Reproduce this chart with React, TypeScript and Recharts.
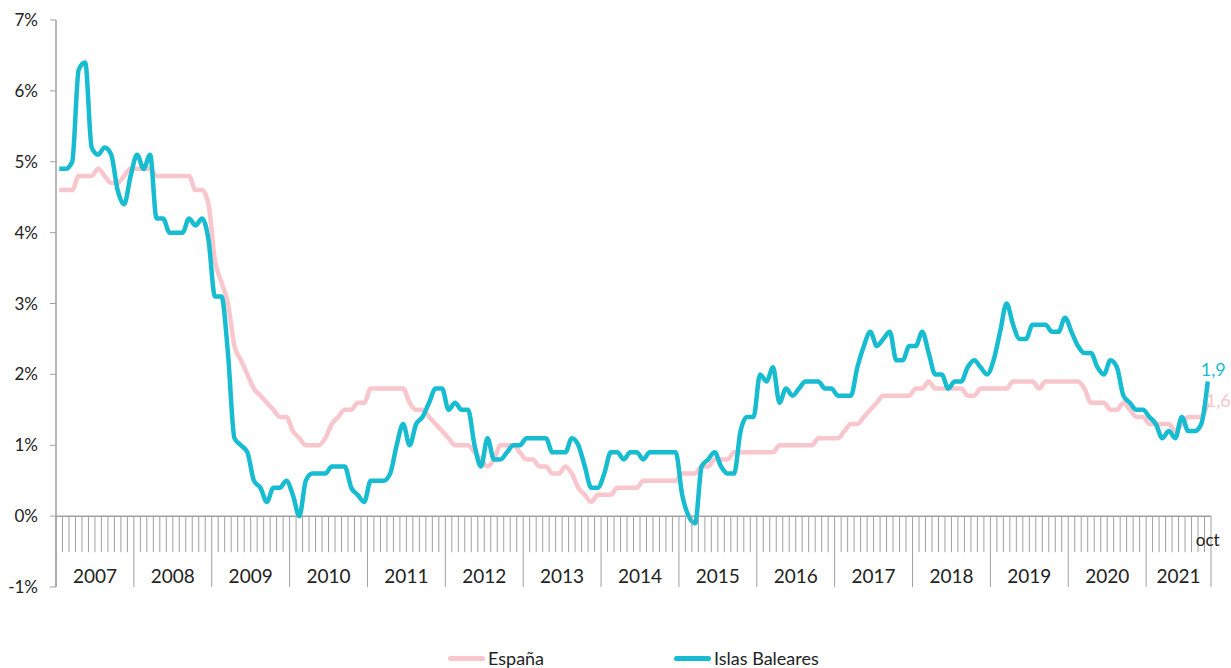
import { Line, LineChart, ReferenceLine, XAxis, YAxis } from 'recharts'

const YEARS = [2007, 2008, 2009, 2010, 2011, 2012, 2013, 2014, 2015, 2016, 2017, 2018, 2019, 2020, 2021]
const MONTHS = ['ene', 'feb', 'mar', 'abr', 'may', 'jun', 'jul', 'ago', 'sep', 'oct', 'nov', 'dic']
const Y_TICKS = [-1, 0, 1, 2, 3, 4, 5, 6, 7]

// one value per month, jan 2007 .. oct 2021
const espana = [
  4.6, 4.6, 4.6, 4.8, 4.8, 4.8, 4.9, 4.8, 4.7, 4.7, 4.8, 4.9, // 2007
  4.9, 4.9, 4.9, 4.8, 4.8, 4.8, 4.8, 4.8, 4.8, 4.6, 4.6, 4.4, // 2008
  3.6, 3.3, 3.0, 2.4, 2.2, 2.0, 1.8, 1.7, 1.6, 1.5, 1.4, 1.4, // 2009
  1.2, 1.1, 1.0, 1.0, 1.0, 1.1, 1.3, 1.4, 1.5, 1.5, 1.6, 1.6, // 2010
  1.8, 1.8, 1.8, 1.8, 1.8, 1.8, 1.6, 1.5, 1.5, 1.4, 1.3, 1.2, // 2011
  1.1, 1.0, 1.0, 1.0, 0.9, 0.8, 0.7, 0.8, 1.0, 1.0, 1.0, 0.9, // 2012
  0.8, 0.8, 0.7, 0.7, 0.6, 0.6, 0.7, 0.6, 0.4, 0.3, 0.2, 0.3, // 2013
  0.3, 0.3, 0.4, 0.4, 0.4, 0.4, 0.5, 0.5, 0.5, 0.5, 0.5, 0.5, // 2014
  0.6, 0.6, 0.6, 0.7, 0.7, 0.8, 0.8, 0.8, 0.9, 0.9, 0.9, 0.9, // 2015
  0.9, 0.9, 0.9, 1.0, 1.0, 1.0, 1.0, 1.0, 1.0, 1.1, 1.1, 1.1, // 2016
  1.1, 1.2, 1.3, 1.3, 1.4, 1.5, 1.6, 1.7, 1.7, 1.7, 1.7, 1.7, // 2017
  1.8, 1.8, 1.9, 1.8, 1.8, 1.8, 1.8, 1.8, 1.7, 1.7, 1.8, 1.8, // 2018
  1.8, 1.8, 1.8, 1.9, 1.9, 1.9, 1.9, 1.8, 1.9, 1.9, 1.9, 1.9, // 2019
  1.9, 1.9, 1.8, 1.6, 1.6, 1.6, 1.5, 1.5, 1.6, 1.5, 1.4, 1.4, // 2020
  1.3, 1.3, 1.3, 1.3, 1.2, 1.3, 1.4, 1.4, 1.4, 1.6, // 2021
]

const baleares = [
  4.9, 4.9, 5.0, 6.3, 6.4, 5.2, 5.1, 5.2, 5.1, 4.6, 4.4, 4.8, // 2007
  5.1, 4.9, 5.1, 4.2, 4.2, 4.0, 4.0, 4.0, 4.2, 4.1, 4.2, 3.9, // 2008
  3.1, 3.1, 2.3, 1.1, 1.0, 0.9, 0.5, 0.4, 0.2, 0.4, 0.4, 0.5, // 2009
  0.3, 0.0, 0.5, 0.6, 0.6, 0.6, 0.7, 0.7, 0.7, 0.4, 0.3, 0.2, // 2010
  0.5, 0.5, 0.5, 0.6, 1.0, 1.3, 1.0, 1.3, 1.4, 1.6, 1.8, 1.8, // 2011
  1.5, 1.6, 1.5, 1.5, 1.0, 0.7, 1.1, 0.8, 0.8, 0.9, 1.0, 1.0, // 2012
  1.1, 1.1, 1.1, 1.1, 0.9, 0.9, 0.9, 1.1, 1.0, 0.7, 0.4, 0.4, // 2013
  0.6, 0.9, 0.9, 0.8, 0.9, 0.9, 0.8, 0.9, 0.9, 0.9, 0.9, 0.9, // 2014
  0.3, 0.0, -0.1, 0.7, 0.8, 0.9, 0.7, 0.6, 0.6, 1.2, 1.4, 1.4, // 2015
  2.0, 1.9, 2.1, 1.6, 1.8, 1.7, 1.8, 1.9, 1.9, 1.9, 1.8, 1.8, // 2016
  1.7, 1.7, 1.7, 2.1, 2.4, 2.6, 2.4, 2.5, 2.6, 2.2, 2.2, 2.4, // 2017
  2.4, 2.6, 2.3, 2.0, 2.0, 1.8, 1.9, 1.9, 2.1, 2.2, 2.1, 2.0, // 2018
  2.2, 2.6, 3.0, 2.7, 2.5, 2.5, 2.7, 2.7, 2.7, 2.6, 2.6, 2.8, // 2019
  2.6, 2.4, 2.3, 2.3, 2.1, 2.0, 2.2, 2.1, 1.7, 1.6, 1.5, 1.5, // 2020
  1.4, 1.3, 1.1, 1.2, 1.1, 1.4, 1.2, 1.2, 1.3, 1.9, // 2021
]

const PINK = '#f8c6cc'
const TEAL = '#17bcd0'
const AXIS = '#a0a0a0'
const FONT = 'Lato, "Open Sans", sans-serif'

const months = YEARS.flatMap((y) => MONTHS.map((m) => `${m} ${y}`)).slice(0, espana.length)
const chartData = months.map((month, i) => ({ month, espana: espana[i], baleares: baleares[i] }))
const N = chartData.length

const WIDTH = 1231
const HEIGHT = 668
const MARGIN = { top: 20, right: 20, left: 0, bottom: 0 }
const Y_AXIS_W = 56
const X_AXIS_H = 81
const PLOT_LEFT = MARGIN.left + Y_AXIS_W
const PLOT_W = WIDTH - MARGIN.right - PLOT_LEFT
const PLOT_TOP = MARGIN.top
const PLOT_BOTTOM = HEIGHT - X_AXIS_H
const ZERO_Y = PLOT_TOP + (7 / 8) * (PLOT_BOTTOM - PLOT_TOP)
const BW = PLOT_W / N

function MonthTick(props: any) {
  const { x, payload } = props
  const i = payload?.index ?? props.index
  const left = x - BW / 2
  const yearStart = i % 12 === 0
  const last = i === N - 1
  const span = Math.min(12, N - i)
  return (
    <g>
      <line x1={left} x2={left} y1={ZERO_Y} y2={yearStart ? PLOT_BOTTOM : ZERO_Y + 36} stroke={AXIS} />
      {yearStart && (
        <text x={left + (span * BW) / 2} y={583} textAnchor="middle" fontSize={19} fill="#222" fontFamily={FONT}>
          {YEARS[i / 12]}
        </text>
      )}
      {last && (
        <>
          <line x1={x + BW / 2} x2={x + BW / 2} y1={ZERO_Y} y2={PLOT_BOTTOM} stroke={AXIS} />
          <text x={x} y={546} textAnchor="middle" fontSize={17} fill="#222" fontFamily={FONT}>
            {MONTHS[(N - 1) % 12]}
          </text>
        </>
      )}
    </g>
  )
}

const endLabel = (color: string, dx: number, dy: number) => (props: any) => {
  const { x, y, index, value } = props
  if (index !== N - 1) return null
  return (
    <text x={x + dx} y={y + dy} fill={color} fontSize={18} fontFamily={FONT}>
      {String(value).replace('.', ',')}
    </text>
  )
}

export default function App() {
  return (
    <div style={{ position: 'absolute', left: 0, top: 0, width: WIDTH, height: HEIGHT, background: '#fff', fontFamily: FONT }}>
      <LineChart width={WIDTH} height={HEIGHT} data={chartData} margin={MARGIN}>
        <XAxis
          dataKey="month"
          scale="band"
          interval={0}
          height={X_AXIS_H}
          axisLine={false}
          tickLine={false}
          tick={<MonthTick />}
        />
        <YAxis
          domain={[-1, 7]}
          ticks={Y_TICKS}
          width={Y_AXIS_W}
          tickFormatter={(v) => `${v}%`}
          axisLine={{ stroke: AXIS, strokeWidth: 1.5 }}
          tickLine={{ stroke: AXIS }}
          tickSize={6}
          tickMargin={12}
          tick={{ fill: '#222', fontSize: 17, fontFamily: FONT }}
        />
        <ReferenceLine y={0} stroke={AXIS} strokeWidth={1.5} />
        <Line
          dataKey="espana"
          name="España"
          type="monotone"
          stroke={PINK}
          strokeWidth={4.5}
          dot={false}
          activeDot={false}
          isAnimationActive={false}
          label={endLabel(PINK, -2, 4)}
        />
        <Line
          dataKey="baleares"
          name="Islas Baleares"
          type="monotone"
          stroke={TEAL}
          strokeWidth={4.5}
          dot={false}
          activeDot={false}
          isAnimationActive={false}
          label={endLabel(TEAL, -7, -5)}
        />
      </LineChart>
      <div style={{ position: 'absolute', top: 647, left: 0, width: WIDTH, height: 22, fontSize: 18, color: '#222' }}>
        {[
          { name: 'España', color: PINK, left: 448 },
          { name: 'Islas Baleares', color: TEAL, left: 674 },
        ].map((item) => (
          <div key={item.name} style={{ position: 'absolute', left: item.left, top: 0, display: 'flex', alignItems: 'center', height: 22 }}>
            <div style={{ width: 37, height: 5, borderRadius: 3, background: item.color, marginRight: 3 }} />
            <span>{item.name}</span>
          </div>
        ))}
      </div>
    </div>
  )
}
